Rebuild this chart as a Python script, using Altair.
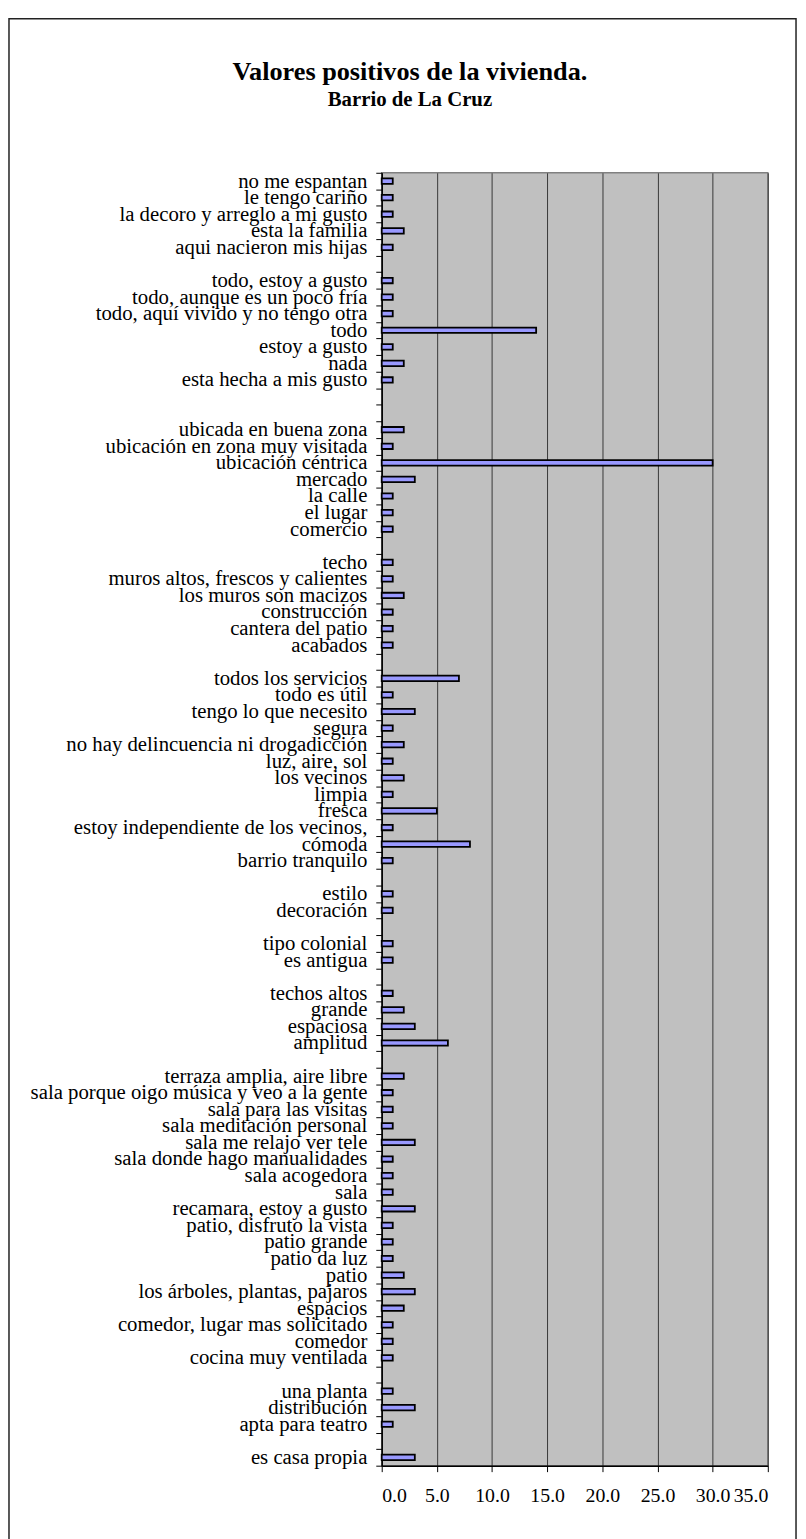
import altair as alt
import pandas as pd

categories = [
    "no me espantan", "le tengo cariño", "la decoro y arreglo a mi gusto", "esta la familia",
    "aqui nacieron mis hijas", " ",
    "todo, estoy a gusto", "todo, aunque es un poco fría", "todo, aquí vivido y no tengo otra",
    "todo", "estoy a gusto", "nada", "esta hecha a mis gusto", "  ", "   ",
    "ubicada en buena zona", "ubicación en zona muy visitada", "ubicación céntrica", "mercado",
    "la calle", "el lugar", "comercio", "    ",
    "techo", "muros altos, frescos y calientes", "los muros son macizos", "construcción",
    "cantera del patio", "acabados", "     ",
    "todos los servicios", "todo es útil", "tengo lo que necesito", "segura",
    "no hay delincuencia ni drogadicción", "luz, aire, sol", "los vecinos", "limpia", "fresca",
    "estoy independiente de los vecinos,", "cómoda", "barrio tranquilo", "      ",
    "estilo", "decoración", "       ",
    "tipo colonial", "es antigua", "        ",
    "techos altos", "grande", "espaciosa", "amplitud", "         ",
    "terraza amplia, aire libre", "sala porque oigo música y veo a la gente", "sala para las visitas",
    "sala meditación personal", "sala me relajo ver tele", "sala donde hago manualidades",
    "sala acogedora", "sala", "recamara, estoy a gusto", "patio, disfruto la vista",
    "patio grande", "patio da luz", "patio", "los árboles, plantas, pajaros", "espacios",
    "comedor, lugar mas solicitado", "comedor", "cocina muy ventilada", "          ",
    "una planta", "distribución", "apta para teatro", "           ",
    "es casa propia",
]

values = [
    1, 1, 1, 2,
    1, None,
    1, 1, 1,
    14, 1, 2, 1, None, None,
    2, 1, 30, 3,
    1, 1, 1, None,
    1, 1, 2, 1,
    1, 1, None,
    7, 1, 3, 1,
    2, 1, 2, 1, 5,
    1, 8, 1, None,
    1, 1, None,
    1, 1, None,
    1, 2, 3, 6, None,
    2, 1, 1,
    1, 3, 1,
    1, 1, 3, 1,
    1, 1, 2, 3, 2,
    1, 1, 1, None,
    1, 3, 1, None,
    3,
]

x_ticks = [0, 5, 10, 15, 20, 25, 30, 35]
title_text = "Valores positivos de la vivienda."
subtitle_text = "Barrio de La Cruz"

df = pd.DataFrame({"cat": categories, "val": values})

FONT = "Liberation Serif"
PLOT_W = 390
PLOT_H = 1306

bars = alt.Chart(df).mark_bar(
    size=5.5, color="#9999FF", stroke="black", strokeWidth=1.8
).encode(
    x=alt.X(
        "val:Q",
        scale=alt.Scale(domain=[0, 35], nice=False, zero=True),
        axis=alt.Axis(
            values=x_ticks, format=".1f", title=None, grid=True,
            gridColor="#383838", gridWidth=1, domainColor="black", domainWidth=1.5,
            tickColor="black", tickSize=6, labelPadding=14,
            labelFont=FONT, labelFontSize=20, labelColor="black",
        ),
    ),
    y=alt.Y(
        "cat:N",
        sort=categories,
        scale=alt.Scale(paddingInner=0, paddingOuter=0),
        axis=alt.Axis(
            title=None, tickBand="extent", domainColor="black", domainWidth=1.5,
            tickColor="black", tickSize=6, labelPadding=9, labelLimit=500,
            labelFont=FONT, labelFontSize=21, labelColor="black",
        ),
    ),
)

frame = alt.Chart(pd.DataFrame({"k": [0]})).mark_rect(
    fill="transparent", stroke="#222222", strokeWidth=1.5, clip=False
).encode(
    x=alt.value(-376.5), x2=alt.value(418.5), y=alt.value(-155.7), y2=alt.value(1400)
)

title = alt.Chart(pd.DataFrame({"t": [title_text]})).mark_text(
    font=FONT, fontSize=26.5, fontWeight="bold", color="black",
    align="center", baseline="alphabetic", clip=False
).encode(text="t:N", x=alt.value(28.5), y=alt.value(-94))

subtitle = alt.Chart(pd.DataFrame({"t": [subtitle_text]})).mark_text(
    font=FONT, fontSize=21, fontWeight="bold", color="black",
    align="center", baseline="alphabetic", clip=False
).encode(text="t:N", x=alt.value(28.5), y=alt.value(-67))

chart = alt.layer(frame, bars, title, subtitle).properties(
    width=PLOT_W,
    height=PLOT_H,
    background="white",
    autosize=alt.AutoSizeParams(type="none"),
    padding={"left": 377.5, "top": 158.7, "right": 30.5, "bottom": 66.3},
).configure_view(
    fill="#C0C0C0", stroke="#808080", strokeWidth=1.5
)

chart.save("out.html", embed_options={"renderer": "svg", "actions": False})
